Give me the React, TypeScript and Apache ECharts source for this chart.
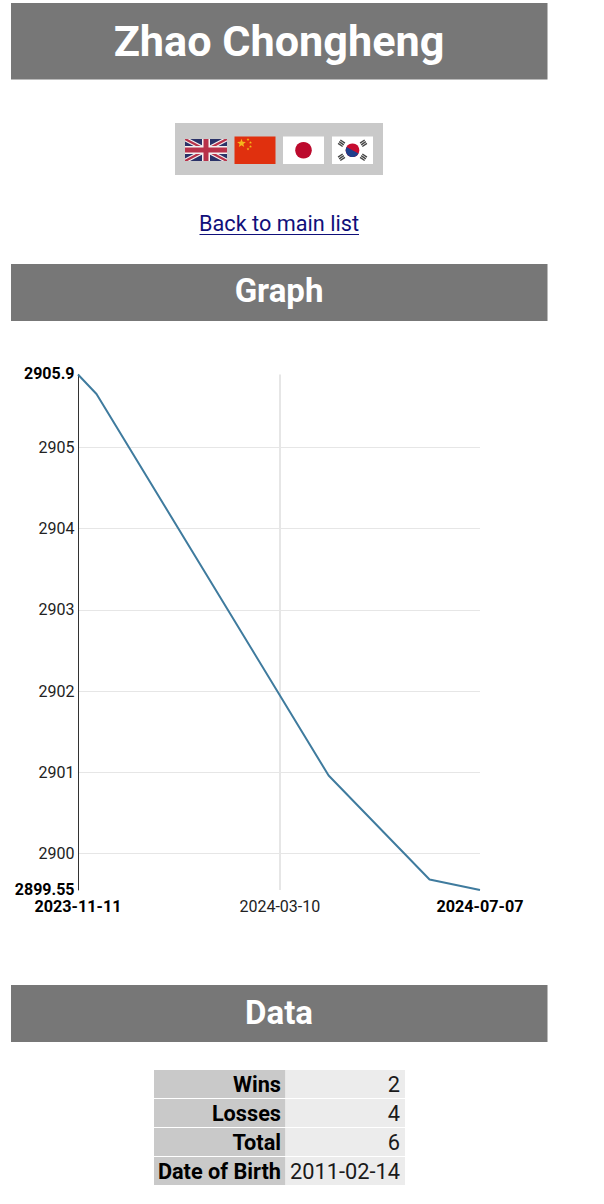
import React, { useEffect, useRef } from "react";
import * as echarts from "echarts";

const titleText = "Zhao Chongheng";
const linkText = "Back to main list";
const sectionGraph = "Graph";
const sectionData = "Data";

const dates = ["2023-11-11", "2023-11-22", "2024-04-08", "2024-06-07", "2024-07-07"];
const ratings = [2905.9, 2905.66, 2900.96, 2899.68, 2899.55];
const yMin = 2899.55;
const yMax = 2905.9;
const yGridTicks = [2900, 2901, 2902, 2903, 2904, 2905];
const xFirst = "2023-11-11";
const xMiddle = "2024-03-10";
const xLast = "2024-07-07";

const tableLabels = ["Wins", "Losses", "Total", "Date of Birth"];
const tableValues = ["2", "4", "6", "2011-02-14"];

const FONT = "Roboto";
const ts = (d: string) => {
  const [y, m, day] = d.split("-").map(Number);
  return Date.UTC(y, m - 1, day);
};
const fmtDate = (v: number) => new Date(v).toISOString().slice(0, 10);

function banner(y: number, h: number, label: string, size: number, textY: number) {
  return [
    { type: "rect", shape: { x: 11, y, width: 536.5, height: h }, style: { fill: "#777777" } },
    {
      type: "text", x: 279, y: textY,
      style: { text: label, fill: "#ffffff", font: `bold ${size}px ${FONT}`, align: "center", verticalAlign: "middle" },
    },
  ];
}

function ukFlag(x: number, y: number) {
  const w = 42, h = 22;
  const p = (pts: number[][], fill: string) => ({ type: "polygon", shape: { points: pts }, style: { fill } });
  return {
    type: "group", x, y,
    children: [
      { type: "rect", shape: { x: 0, y: 0, width: w, height: h }, style: { fill: "#2a3268" } },
      p([[0, 0], [5, 0], [w, h - 2.5], [w, h], [w - 5, h], [0, 2.5]], "#f4f0f0"),
      p([[w, 0], [w, 2.5], [5, h], [0, h], [0, h - 2.5], [w - 5, 0]], "#f4f0f0"),
      p([[0, 0], [2.5, 0], [w, h - 1.3], [w, h], [w - 2.5, h], [0, 1.3]], "#b8324a"),
      p([[w, 0], [w, 1.3], [2.5, h], [0, h], [0, h - 1.3], [w - 2.5, 0]], "#b8324a"),
      { type: "rect", shape: { x: 17, y: 0, width: 8, height: h }, style: { fill: "#f4f0f0" } },
      { type: "rect", shape: { x: 0, y: 7, width: w, height: 8 }, style: { fill: "#f4f0f0" } },
      { type: "rect", shape: { x: 18.5, y: 0, width: 5, height: h }, style: { fill: "#b8324a" } },
      { type: "rect", shape: { x: 0, y: 8.5, width: w, height: 5 }, style: { fill: "#b8324a" } },
    ],
  };
}

function starPoints(cx: number, cy: number, r: number) {
  const pts: number[][] = [];
  for (let i = 0; i < 10; i++) {
    const a = -Math.PI / 2 + (i * Math.PI) / 5;
    const rr = i % 2 === 0 ? r : r * 0.42;
    pts.push([cx + rr * Math.cos(a), cy + rr * Math.sin(a)]);
  }
  return pts;
}

function cnFlag(x: number, y: number) {
  const stars = [[7, 6.8, 4.6], [13.5, 3, 1.5], [16, 6, 1.5], [16, 10, 1.5], [13.5, 12.5, 1.5]];
  return {
    type: "group", x, y,
    children: [
      { type: "rect", shape: { x: 0, y: 0, width: 41, height: 27.5 }, style: { fill: "#e0300e" } },
      ...stars.map(([cx, cy, r]) => ({ type: "polygon", shape: { points: starPoints(cx, cy, r) }, style: { fill: "#f5b81c" } })),
    ],
  };
}

function jpFlag(x: number, y: number) {
  return {
    type: "group", x, y,
    children: [
      { type: "rect", shape: { x: 0, y: 0, width: 41, height: 27.5 }, style: { fill: "#ffffff" } },
      { type: "circle", shape: { cx: 20.5, cy: 13.75, r: 8.3 }, style: { fill: "#bc0a2d" } },
    ],
  };
}

function krFlag(x: number, y: number) {
  const cx = 20.5, cy = 13.75;
  const corners = [[-11, -7, -0.6], [11, -7, 0.6], [-11, 7, 0.6], [11, 7, -0.6]];
  return {
    type: "group", x, y,
    children: [
      { type: "rect", shape: { x: 0, y: 0, width: 41, height: 27.5 }, style: { fill: "#ffffff" } },
      { type: "circle", shape: { cx, cy, r: 6.8 }, style: { fill: "#c60c30" } },
      { type: "sector", shape: { cx, cy, r: 6.8, r0: 0, startAngle: 0.5, endAngle: 0.5 + Math.PI }, style: { fill: "#1f3f8c" } },
      ...corners.flatMap(([dx, dy, rot]) =>
        [-2, 0, 2].map((o) => ({
          type: "rect", x: cx + dx, y: cy + dy, rotation: rot,
          shape: { x: -2.8, y: o - 0.7, width: 5.6, height: 1.4 }, style: { fill: "#444444" },
        }))
      ),
    ],
  };
}

function tableGraphic() {
  const rowTops = [1070, 1099, 1128, 1157];
  const rowH = 28;
  const out: any[] = [];
  tableLabels.forEach((label, i) => {
    const y = rowTops[i];
    out.push({ type: "rect", shape: { x: 154, y, width: 131.5, height: rowH }, style: { fill: "#c9c9c9" } });
    out.push({ type: "rect", shape: { x: 285.5, y, width: 119.5, height: rowH }, style: { fill: "#ececec" } });
    out.push({
      type: "text", x: 281, y: y + rowH / 2,
      style: { text: label, fill: "#000000", font: `bold 21.7px ${FONT}`, align: "right", verticalAlign: "middle" },
    });
    out.push({
      type: "text", x: 400, y: y + rowH / 2,
      style: { text: tableValues[i], fill: "#1a1a1a", font: `21.8px ${FONT}`, align: "right", verticalAlign: "middle" },
    });
  });
  return out;
}

export default function App() {
  const ref = useRef<HTMLDivElement>(null);
  useEffect(() => {
    const chart = echarts.init(ref.current!, undefined, { renderer: "svg" });
    const boldY = (v: number) => v === yMin || v === yMax;
    chart.setOption({
      animation: false,
      backgroundColor: "#ffffff",
      textStyle: { fontFamily: FONT },
      grid: { left: 78, width: 402, top: 374.5, height: 515.5 },
      xAxis: {
        type: "value",
        min: ts(xFirst),
        max: ts(xLast),
        axisLine: { show: false },
        axisTick: { show: false, customValues: [ts(xMiddle)] },
        splitLine: { show: true, lineStyle: { color: "#e6e6e6", width: 2 } },
        axisLabel: {
          customValues: [ts(xFirst), ts(xMiddle), ts(xLast)],
          margin: 8,
          hideOverlap: false,
          showMinLabel: true,
          showMaxLabel: true,
          formatter: (v: number) => {
            const s = fmtDate(v);
            return s === xMiddle ? `{r|${s}}` : `{b|${s}}`;
          },
          rich: {
            r: { fontFamily: FONT, fontSize: 16, color: "#222222" },
            b: { fontFamily: FONT, fontSize: 16.2, fontWeight: "bold", color: "#000000" },
          },
        },
      },
      yAxis: {
        type: "value",
        min: yMin,
        max: yMax,
        axisLine: { show: true, onZero: false, lineStyle: { color: "#333333", width: 1 } },
        axisTick: { show: false, customValues: yGridTicks },
        splitLine: { show: true, lineStyle: { color: "#e6e6e6", width: 1 } },
        axisLabel: {
          customValues: [yMin, ...yGridTicks, yMax],
          margin: 3.5,
          hideOverlap: false,
          showMinLabel: true,
          showMaxLabel: true,
          formatter: (v: number) => (boldY(v) ? `{b|${v}}` : `{r|${v}}`),
          rich: {
            r: { fontFamily: FONT, fontSize: 16, color: "#222222" },
            b: { fontFamily: FONT, fontSize: 16, fontWeight: "bold", color: "#000000", padding: [0, 0, 2, 0] },
          },
        },
      },
      series: [
        {
          type: "line",
          data: dates.map((d, i) => [ts(d), ratings[i]]),
          showSymbol: false,
          clip: false,
          lineStyle: { color: "#3f7b9e", width: 2 },
        },
      ],
      graphic: [
        ...banner(3, 76.5, titleText, 43.2, 41.5),
        { type: "rect", shape: { x: 175, y: 123, width: 208, height: 52 }, style: { fill: "#c9c9c9" } },
        ukFlag(185, 139),
        cnFlag(234.5, 136.5),
        jpFlag(283, 136.5),
        krFlag(332, 136.5),
        {
          type: "text", x: 279, y: 223,
          style: { text: linkText, fill: "#10107a", font: `21.7px ${FONT}`, align: "center", verticalAlign: "middle" },
        },
        { type: "line", shape: { x1: 199.5, y1: 234.5, x2: 359, y2: 234.5 }, style: { stroke: "#10107a", lineWidth: 1.2 } },
        ...banner(264, 57, sectionGraph, 33, 290),
        ...banner(985, 57, sectionData, 33, 1012),
        ...tableGraphic(),
      ],
    });
    return () => chart.dispose();
  }, []);
  return <div ref={ref} style={{ position: "fixed", left: 0, top: 0, width: 604, height: 1204 }} />;
}
